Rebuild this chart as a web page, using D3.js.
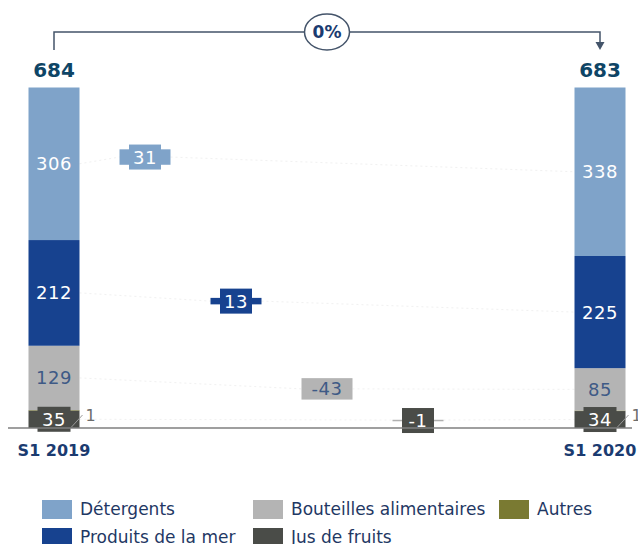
<!DOCTYPE html>
<html>
<head>
<meta charset="utf-8">
<script src="https://cdn.jsdelivr.net/npm/d3@7"></script>
<style>
  body { margin: 0; background: #fff; }
  svg { display: block; font-family: "DejaVu Sans", Verdana, sans-serif; }
</style>
</head>
<body>
<svg id="chart" width="638" height="544"></svg>
<script>
// periods and columns
let periods = ["S1 2019", "S1 2020"];
let columns = ["S1 2019", "Détergents", "Produits de la mer", "Bouteilles alimentaires", "Jus de fruits", "Autres", "S1 2020"];

// stacked values per period (bottom -> top order is set below)
let jus = [35, 34];
let autres = [1, 1];
let bouteilles = [129, 85];
let produits = [212, 225];
let detergents = [306, 338];
let totals = [684, 683];
let growth = "0%";

// variations between the two periods
let deltaCats = ["Détergents", "Produits de la mer", "Bouteilles alimentaires", "Jus de fruits"];
let deltaValues = [31, 13, -43, -1];
let deltaStart = [528, 248, 100, 16.5];

let legendRows = [["Détergents", "Bouteilles alimentaires", "Autres"], ["Produits de la mer", "Jus de fruits"]];

let colors = {
    "Détergents": "#7fa3c9",
    "Produits de la mer": "#17428f",
    "Bouteilles alimentaires": "#b4b4b4",
    "Autres": "#7a7a32",
    "Jus de fruits": "#4a4c48"
};
let labelColors = {
    "Détergents": "#ffffff",
    "Produits de la mer": "#ffffff",
    "Bouteilles alimentaires": "#3e5a86",
    "Autres": "#6d6d6d",
    "Jus de fruits": "#ffffff"
};

let svg = d3.select("#chart");
let barW = 51;

let x = d3.scalePoint().domain(columns).range([54, 600]);
let y = d3.scaleLinear().domain([0, 684]).range([428, 87]);

// build stacked table
let stackKeys = ["Jus de fruits", "Autres", "Bouteilles alimentaires", "Produits de la mer", "Détergents"];
let table = periods.map((p, i) => ({
    period: p,
    "Jus de fruits": jus[i],
    "Autres": autres[i],
    "Bouteilles alimentaires": bouteilles[i],
    "Produits de la mer": produits[i],
    "Détergents": detergents[i]
}));
let stacked = d3.stack().keys(stackKeys)(table);

// faint connectors (barely visible in the original)
let conn = svg.append("g").attr("stroke", "#f1f1f1").attr("stroke-dasharray", "2,3").attr("fill", "none");
deltaCats.forEach((c, i) => {
    let s = stacked.find(l => l.key === c);
    let yMid = deltaStart[i] + deltaValues[i] / 2;
    conn.append("line")
        .attr("x1", x("S1 2019") + barW / 2).attr("y1", y((s[0][0] + s[0][1]) / 2))
        .attr("x2", x(c) - barW / 2).attr("y2", y(yMid));
    conn.append("line")
        .attr("x1", x(c) + barW / 2).attr("y1", y(yMid))
        .attr("x2", x("S1 2020") - barW / 2).attr("y2", y((s[1][0] + s[1][1]) / 2));
});

// bars
stacked.forEach(layer => {
    svg.append("g").selectAll("rect")
        .data(layer)
        .enter()
        .append("rect")
        .attr("x", d => x(d.data.period) - barW / 2)
        .attr("y", d => y(d[1]))
        .attr("width", barW)
        .attr("height", d => y(d[0]) - y(d[1]))
        .attr("fill", colors[layer.key]);
});

// segment labels
stacked.forEach(layer => {
    if (layer.key === "Autres") return;
    layer.forEach(d => {
        let cx = x(d.data.period), cy = (y(d[0]) + y(d[1])) / 2;
        let v = d[1] - d[0];
        let txt = String(v);
        if (y(d[0]) - y(d[1]) < 20) {
            let w = txt.length * 11.5 + 10;
            svg.append("rect")
                .attr("x", cx - w / 2).attr("y", cy - 12.5)
                .attr("width", w).attr("height", 25)
                .attr("fill", colors[layer.key]);
        }
        svg.append("text")
            .attr("x", cx).attr("y", cy)
            .attr("text-anchor", "middle")
            .attr("dominant-baseline", "central")
            .attr("font-size", 18)
            .attr("letter-spacing", 0.5)
            .attr("fill", labelColors[layer.key])
            .text(txt);
    });
});

// small "Autres" labels with leader
let autresLayer = stacked.find(l => l.key === "Autres");
autresLayer.forEach(d => {
    let x0 = x(d.data.period) + barW / 2;
    svg.append("line")
        .attr("x1", x0 - 8).attr("y1", y(0) - 1)
        .attr("x2", x0 + 3).attr("y2", y(0) - 13)
        .attr("stroke", "#9a9a9a").attr("stroke-width", 1);
    svg.append("text")
        .attr("x", x0 + 6).attr("y", y(0) - 13)
        .attr("dominant-baseline", "central")
        .attr("font-size", 16)
        .attr("fill", labelColors["Autres"])
        .text(d[1] - d[0]);
});

// variations
deltaCats.forEach((c, i) => {
    let v = deltaValues[i];
    let y0 = y(deltaStart[i]), y1 = y(deltaStart[i] + v);
    let top = Math.min(y0, y1), h = Math.max(Math.abs(y0 - y1), 1.5);
    let cx = x(c), cy = top + h / 2;
    let txt = String(v);
    svg.append("rect")
        .attr("x", cx - barW / 2).attr("y", top)
        .attr("width", barW).attr("height", h)
        .attr("fill", Math.abs(v) < 3 ? "#b0b0b0" : colors[c]);
    if (h < 18) {
        let w = txt.length * 11.5 + 9;
        svg.append("rect")
            .attr("x", cx - w / 2).attr("y", cy - 12.5)
            .attr("width", w).attr("height", 25)
            .attr("fill", colors[c]);
    }
    svg.append("text")
        .attr("x", cx).attr("y", cy)
        .attr("text-anchor", "middle")
        .attr("dominant-baseline", "central")
        .attr("font-size", 18)
        .attr("letter-spacing", 0.5)
        .attr("fill", labelColors[c])
        .text(txt);
});

// baseline
svg.append("line")
    .attr("x1", 8).attr("x2", 632)
    .attr("y1", y(0)).attr("y2", y(0))
    .attr("stroke", "#7f7f7f").attr("stroke-width", 1.5);

// period labels
svg.selectAll(".period")
    .data(periods)
    .enter()
    .append("text")
    .attr("x", d => x(d)).attr("y", 450)
    .attr("text-anchor", "middle")
    .attr("dominant-baseline", "central")
    .attr("font-size", 16).attr("font-weight", "bold")
    .attr("fill", "#1b3b70")
    .text(d => d);

// totals
svg.selectAll(".total")
    .data(totals)
    .enter()
    .append("text")
    .attr("x", (d, i) => x(periods[i])).attr("y", 70)
    .attr("text-anchor", "middle")
    .attr("dominant-baseline", "central")
    .attr("font-size", 20).attr("font-weight", "bold")
    .attr("fill", "#0e4566")
    .text(d => d);

// growth bracket
let bx0 = x("S1 2019"), bx1 = x("S1 2020"), by = 32;
svg.append("path")
    .attr("d", `M${bx0},50 V${by} H${bx1} V43`)
    .attr("fill", "none").attr("stroke", "#44546a").attr("stroke-width", 1.5);
svg.append("path")
    .attr("d", `M${bx1 - 4.5},42 L${bx1 + 4.5},42 L${bx1},50 Z`)
    .attr("fill", "#44546a");
svg.append("ellipse")
    .attr("cx", 327).attr("cy", by)
    .attr("rx", 22.5).attr("ry", 18)
    .attr("fill", "#fff").attr("stroke", "#44546a").attr("stroke-width", 1.5);
svg.append("text")
    .attr("x", 327).attr("y", by)
    .attr("text-anchor", "middle")
    .attr("dominant-baseline", "central")
    .attr("font-size", 17).attr("font-weight", "bold")
    .attr("fill", "#1b3b70")
    .text(growth);

// legend
let legX = [42, 253, 499];
legendRows.forEach((row, r) => {
    row.forEach((name, k) => {
        let g = svg.append("g").attr("transform", "translate(" + legX[k] + "," + (509 + r * 28) + ")");
        g.append("rect")
            .attr("x", 0).attr("y", -9)
            .attr("width", 30).attr("height", 19)
            .attr("fill", colors[name]);
        g.append("text")
            .attr("x", 38).attr("y", 0)
            .attr("dominant-baseline", "central")
            .attr("font-size", 17)
            .attr("fill", "#1f3864")
            .text(name);
    });
});
</script>
</body>
</html>
